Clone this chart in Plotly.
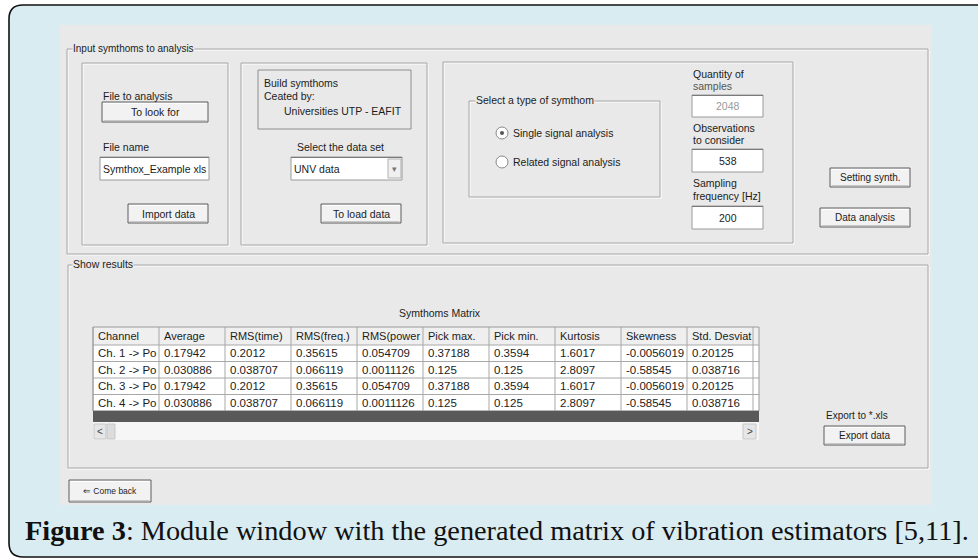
import plotly.graph_objects as go

# ---------------- data ----------------
table_columns = ["Channel", "Average", "RMS(time)", "RMS(freq.)", "RMS(power", "Pick max.",
                 "Pick min.", "Kurtosis", "Skewness", "Std. Desviat"]
channels = ["Ch. 1 -> Po", "Ch. 2 -> Po", "Ch. 3 -> Po", "Ch. 4 -> Po"]
average = ["0.17942", "0.030886", "0.17942", "0.030886"]
rms_time = ["0.2012", "0.038707", "0.2012", "0.038707"]
rms_freq = ["0.35615", "0.066119", "0.35615", "0.066119"]
rms_power = ["0.054709", "0.0011126", "0.054709", "0.0011126"]
pick_max = ["0.37188", "0.125", "0.37188", "0.125"]
pick_min = ["0.3594", "0.125", "0.3594", "0.125"]
kurtosis = ["1.6017", "2.8097", "1.6017", "2.8097"]
skewness = ["-0.0056019", "-0.58545", "-0.0056019", "-0.58545"]
std_desv = ["0.20125", "0.038716", "0.20125", "0.038716"]

quantity_samples = "2048"
observations = "538"
sampling_freq = "200"
file_name = "Symthox_Example xls"
data_set = "UNV data"
caption_bold = "Figure 3"
caption_rest = ": Module window with the generated matrix of vibration estimators [5,11]."

# ---------------- styling helpers ----------------
W, H = 978, 559
BLUE = "#d8ecf1"
GRAY = "#e9e9e9"
ETCH = "#a6a6a6"
TXT = "#1c1c1c"
FONT = "Liberation Sans"

shapes = []
annotations = []


def rect(x0, y0, x1, y1, fill=None, line=None, lw=1, layer="above"):
    shapes.append(dict(type="rect", x0=x0, y0=y0, x1=x1, y1=y1, xref="x", yref="y",
                       fillcolor=fill if fill else "rgba(0,0,0,0)",
                       line=dict(color=line if line else "rgba(0,0,0,0)", width=lw if line else 0),
                       layer=layer))


def line(x0, y0, x1, y1, color, lw=1):
    shapes.append(dict(type="line", x0=x0, y0=y0, x1=x1, y1=y1, xref="x", yref="y",
                       line=dict(color=color, width=lw)))


def text(x, y, s, size=10.5, anchor="left", color=TXT, bg=None, family=FONT):
    a = dict(x=x, y=y, xref="x", yref="y", text=s, showarrow=False, xanchor=anchor,
             yanchor="middle", font=dict(family=family, size=size, color=color),
             borderpad=0)
    if bg:
        a["bgcolor"] = bg
    annotations.append(a)


def etched(x0, y0, x1, y1):
    rect(x0 + 1, y0 + 1, x1 + 1, y1 + 1, line="#ffffff", lw=1)
    rect(x0, y0, x1, y1, line=ETCH, lw=1)


def button(x0, y0, x1, y1, label, size=10.5):
    rect(x0, y0, x1, y1, fill="#f2f2f2", line="#5c5c5c", lw=1)
    line(x0 + 1.5, y0 + 1.5, x1 - 1.5, y0 + 1.5, "#ffffff", 1)
    line(x0 + 1.5, y1 - 1.5, x1 - 1.5, y1 - 1.5, "#c8c8c8", 1)
    if label:
        text((x0 + x1) / 2, (y0 + y1) / 2, label, size=size, anchor="center")


def editbox(x0, y0, x1, y1, val, color=TXT, anchor="center"):
    rect(x0, y0, x1, y1, fill="#ffffff", line="#9a9a9a", lw=1)
    line(x0, y0 + 0.5, x1, y0 + 0.5, "#7a7a7a", 1)
    if anchor == "center":
        text((x0 + x1) / 2, (y0 + y1) / 2, val, color=color, anchor="center")
    else:
        text(x0 + 2, (y0 + y1) / 2, val, color=color)


# ---------------- background frame ----------------
shapes.append(dict(type="path", xref="x", yref="y",
                   path="M 990,5 L 23,5 Q 9,5 9,19 L 9,543 Q 9,557 23,557 L 990,557 Z",
                   fillcolor=BLUE, line=dict(width=0), layer="below"))
shapes.append(dict(type="path", xref="x", yref="y",
                   path="M 990,5 L 23,5 Q 9,5 9,19 L 9,543 Q 9,557 23,557 L 990,557",
                   fillcolor="rgba(0,0,0,0)", line=dict(color="#111111", width=1.6)))

# GUI window
rect(60, 25, 932, 505, fill=GRAY)

# ---------------- input group ----------------
etched(67, 49, 928, 254)
text(72, 48, "Input symthoms to analysis", size=10, bg=GRAY)

# panel 1
etched(82, 63, 228, 245)
text(102, 96, "File to analysis")
button(102, 102, 208, 122, "To look for")
text(102, 147, "File name")
editbox(100, 157, 209, 180, file_name, anchor="left")
button(128, 204, 208, 223, "Import data")

# panel 2
etched(241, 63, 427, 245)
rect(258, 70, 411, 129, line="#8e8e8e", lw=1)
text(263, 83, "Build symthoms")
text(263, 96, "Ceated by:")
text(283, 111, "Universities UTP - EAFIT")
text(340, 147, "Select the data set", anchor="center")
editbox(291, 157, 402, 180, data_set, anchor="left")
rect(388, 159, 401, 178, fill="#f0f0f0", line="#b0b0b0", lw=1)
text(394.5, 168.5, "▾", size=9, anchor="center", color="#777777")
button(321, 204, 401, 223, "To load data")

# panel 3
etched(443, 62, 793, 243)
etched(469, 101, 660, 197)
text(475, 100, "Select a type of symthom", bg=GRAY)
shapes.append(dict(type="circle", xref="x", yref="y", x0=496, y0=127, x1=508, y1=139,
                   fillcolor="#ffffff", line=dict(color="#8a8a8a", width=1)))
shapes.append(dict(type="circle", xref="x", yref="y", x0=500, y0=131, x1=504, y1=135,
                   fillcolor="#555555", line=dict(width=0)))
shapes.append(dict(type="circle", xref="x", yref="y", x0=496, y0=156, x1=508, y1=168,
                   fillcolor="#ffffff", line=dict(color="#8a8a8a", width=1)))
text(512, 133, "Single signal analysis")
text(512, 162, "Related signal analysis")

text(692, 74, "Quantity of")
text(692, 86, "samples", color="#555555")
editbox(692, 95, 763, 117, quantity_samples, color="#9a9a9a")
text(692, 128, "Observations")
text(692, 140, "to consider")
editbox(692, 149, 763, 172, observations)
text(692, 183, "Sampling")
text(692, 196, "frequency [Hz]")
editbox(692, 206, 763, 229, sampling_freq)

button(830, 168, 910, 187, "Setting synth.", size=10)
button(820, 208, 910, 227, "Data analysis", size=10)

# ---------------- results group ----------------
etched(68, 265, 928, 468)
text(72, 264, "Show results", bg=GRAY)
text(440, 313, "Symthoms Matrix", anchor="center")

col_values = [channels, average, rms_time, rms_freq, rms_power, pick_max,
              pick_min, kurtosis, skewness, std_desv]
tx0, colw = 93, 66
hy0, hy1 = 327, 345
rowh = 16.5
nrows = len(channels)
tx_end = tx0 + colw * len(table_columns) + 6
ty_end = hy1 + rowh * nrows

rect(tx0, hy0, tx_end, hy1, fill="#efefef")
rect(tx0, hy1, tx_end, ty_end, fill="#ffffff")
for k, name in enumerate(table_columns):
    cx = tx0 + colw * k
    text(cx + 4, (hy0 + hy1) / 2, name, size=11)
    for r, v in enumerate(col_values[k]):
        text(cx + 4, hy1 + rowh * r + rowh / 2, v, size=11.5)
for k in range(len(table_columns) + 1):
    cx = tx0 + colw * k
    line(cx, hy0, cx, ty_end, "#a8a8a8", 1)
for r in range(nrows + 1):
    yy = hy1 + rowh * r
    line(tx0, yy, tx_end, yy, "#a8a8a8", 1)
rect(tx0, hy0, tx_end, ty_end, line="#9a9a9a", lw=1)
# dark bar and scrollbar
rect(tx0, ty_end, tx_end, ty_end + 11, fill="#595959")
rect(tx0, ty_end + 11, tx_end, ty_end + 29, fill="#f6f6f6")
rect(tx0 + 1, ty_end + 13, tx0 + 13, ty_end + 28, fill="#e6e6e6", line="#c8c8c8")
text(tx0 + 7, ty_end + 20.5, "<", size=10, anchor="center", color="#444444")
rect(tx0 + 14, ty_end + 13, tx0 + 22, ty_end + 28, fill="#dcdcdc", line="#c8c8c8")
rect(tx_end - 16, ty_end + 13, tx_end - 3, ty_end + 28, fill="#e6e6e6", line="#c8c8c8")
text(tx_end - 9.5, ty_end + 20.5, ">", size=10, anchor="center", color="#444444")

text(825, 415, "Export to *.xls", size=10)
button(824, 426, 905, 445, "Export data", size=10)

# come back
button(69, 480, 151, 502, "", size=9)
text(110, 491, "⇐ Come back", size=8.5, anchor="center")

# ---------------- caption ----------------
text(24, 530, "<b>" + caption_bold + "</b>" + caption_rest, size=28.3,
     family="Liberation Serif", color="#111111")

fig = go.Figure()
fig.update_layout(
    width=W, height=H, margin=dict(l=0, r=0, t=0, b=0),
    paper_bgcolor="#ffffff", plot_bgcolor="#ffffff",
    xaxis=dict(range=[0, W], visible=False, fixedrange=True),
    yaxis=dict(range=[H, 0], visible=False, fixedrange=True),
    shapes=shapes, annotations=annotations, showlegend=False,
)
fig.write_html("out.html", config={"displayModeBar": False},
               post_script="document.body.style.margin='0';document.body.style.overflow='hidden';")
